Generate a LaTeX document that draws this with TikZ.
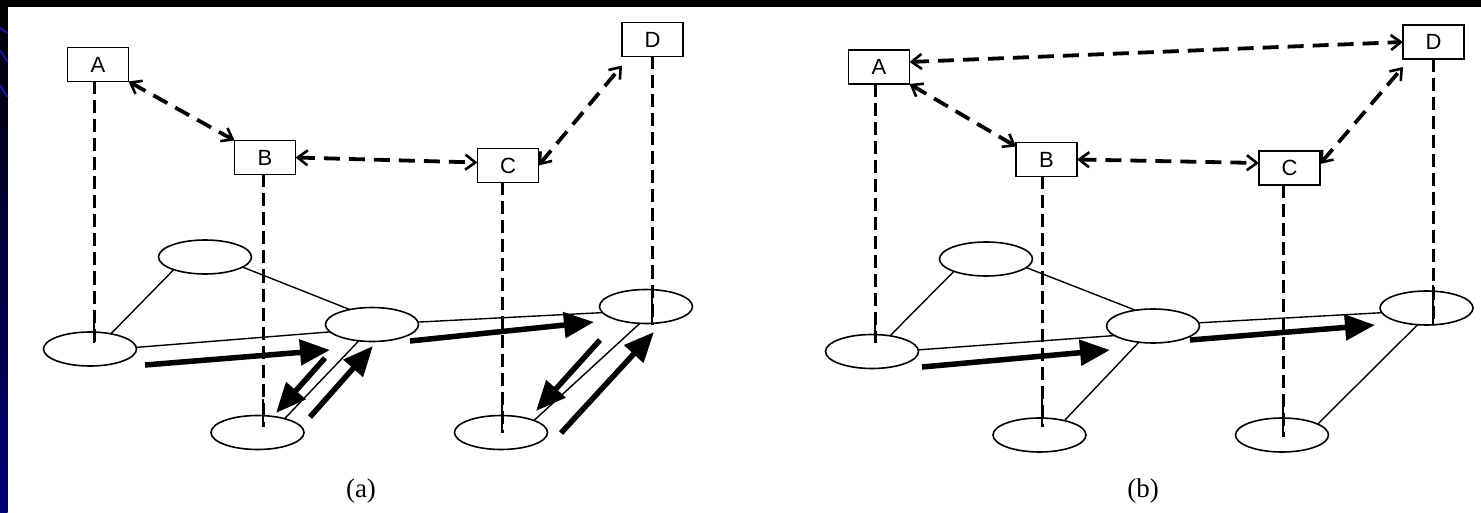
\documentclass[tikz,border=0pt]{standalone}
\usepackage{fontspec}
\setmainfont{Liberation Serif}
\newfontfamily\boxfont{Liberation Sans}
\usetikzlibrary{arrows.meta,shapes.geometric}
\definecolor{navy}{RGB}{0,0,120}
\definecolor{slideblue}{RGB}{20,20,170}
\begin{document}
\begin{tikzpicture}[x=1pt,y=-1pt,
  box/.style={draw,line width=1.9pt,minimum width=61pt,minimum height=34pt,inner sep=0pt,outer sep=0pt,font=\boxfont\fontsize{22}{22}\selectfont},
  site/.style={draw,ellipse,line width=1.6pt,minimum width=93pt,minimum height=34pt,inner sep=0pt,outer sep=0pt},
  vlink/.style={line width=3pt,dash pattern=on 13pt off 6pt},
  tick/.style={line width=1.9pt},
  plink/.style={line width=3.8pt,dash pattern=on 16pt off 9pt,{Straight Barb[length=10pt,width=15pt,line width=2.6pt]}-{Straight Barb[length=10pt,width=15pt,line width=2.6pt]}},
  link/.style={line width=1.4pt},
  flow/.style={line width=5.5pt,-{Triangle[length=30pt,width=25pt]}},
  caption/.style={font=\fontsize{27}{30}\selectfont}
]
\useasboundingbox (0,0) rectangle (1481,513);
\fill[white] (0,0) rectangle (1481,513);
\fill[black] (0,0) rectangle (1481,7);
\shade[top color=black,bottom color=navy] (0,0) rectangle (7.5,513);
\draw[slideblue,line width=2pt] (0,28) -- (7.5,33);
\draw[slideblue,line width=2pt] (0,50) -- (7.5,62);
\draw[slideblue,line width=2pt] (0,85) -- (7.5,97);

% ---------------- panel (a) ----------------
\node[box] (aA) at (98,64.5) {A};
\node[box] (aB) at (265,157.5) {B};
\node[box] (aC) at (508,165.5) {C};
\node[box] (aD) at (652.5,39.5) {D};

\node[site] (a1) at (90,349) {};
\node[site] (a2) at (205,257) {};
\node[site] (a3) at (372,324.5) {};
\node[site] (a4) at (257.5,432.5) {};
\node[site] (a5) at (501,432.5) {};
\node[site] (a6) at (646,306.5) {};

\coordinate (apA) at (94,343);
\coordinate (apB) at (263,427);
\coordinate (apC) at (502,433);
\coordinate (apD) at (652,325);
\draw[vlink] (aA.south -| apA) -- (apA);
\draw[vlink] (aB.south -| apB) -- (apB);
\draw[vlink] (aC.south -| apC) -- (apC);
\draw[vlink] (aD.south -| apD) -- (apD);
\draw[tick] (apA) -- ++(0,-26);
\draw[tick] (apB) -- ++(0,-28);
\draw[tick] (apC) -- ++(0,-28);
\draw[tick] (apD) -- ++(0,-34);

\draw[link] (a1.36) -- (a2.202);
\draw[link] (a2.345) -- (a3.146);
\draw[link] (a1.2) -- (a3.190);
\draw[link] (a3.3) -- (a6.188);
\draw[link] (a3.231) -- (a4.27);
\draw[link] (a6.250) -- (a5.20);

\coordinate (af1s) at (145,365); \coordinate (af1e) at (330,350);
\coordinate (af2s) at (325,358); \coordinate (af2e) at (276,413);
\coordinate (af3s) at (310,417); \coordinate (af3e) at (373,346);
\coordinate (af4s) at (410,341); \coordinate (af4e) at (594,322);
\coordinate (af5s) at (600,340); \coordinate (af5e) at (536,411);
\coordinate (af6s) at (561,433); \coordinate (af6e) at (654,332);
\draw[flow] (af1s) -- (af1e);
\draw[flow] (af2s) -- (af2e);
\draw[flow] (af3s) -- (af3e);
\draw[flow] (af4s) -- (af4e);
\draw[flow] (af5s) -- (af5e);
\draw[flow] (af6s) -- (af6e);

\draw[plink] (aA.south east) -- (aB.north west);
\draw[plink] (aB.east) -- ([yshift=3pt]aC.west);
\draw[plink] (aC.east) -- ([yshift=-9pt]aD.south west);

\node[caption] (la) at (361,491) {(a)};

% ---------------- panel (b) ----------------
\node[box] (bA) at (879,67) {A};
\node[box] (bB) at (1046.5,159.5) {B};
\node[box] (bC) at (1289.5,168) {C};
\node[box] (bD) at (1433.5,42) {D};

\node[site] (b1) at (872,351.5) {};
\node[site] (b2) at (986,259) {};
\node[site] (b3) at (1153,326) {};
\node[site] (b4) at (1039.5,435) {};
\node[site] (b5) at (1282,435) {};
\node[site] (b6) at (1426.5,308) {};

\coordinate (bpA) at (875,343);
\coordinate (bpB) at (1042,427);
\coordinate (bpC) at (1283,437);
\coordinate (bpD) at (1433,325);
\draw[vlink] (bA.south -| bpA) -- (bpA);
\draw[vlink] (bB.south -| bpB) -- (bpB);
\draw[vlink] (bC.south -| bpC) -- (bpC);
\draw[vlink] (bD.south -| bpD) -- (bpD);
\draw[tick] (bpA) -- ++(0,-26);
\draw[tick] (bpB) -- ++(0,-28);
\draw[tick] (bpC) -- ++(0,-37);
\draw[tick] (bpD) -- ++(0,-40);

\draw[link] (b1.41) -- (b2.201);
\draw[link] (b2.348) -- (b3.138);
\draw[link] (b1.2) -- (b3.194);
\draw[link] (b3.4) -- (b6.186);
\draw[link] (b3.229) -- (b4.30);
\draw[link] (b6.242) -- (b5.17);

\coordinate (bf1s) at (922,367); \coordinate (bf1e) at (1110,350);
\coordinate (bf2s) at (1190,340); \coordinate (bf2e) at (1375,325);
\draw[flow] (bf1s) -- (bf1e);
\draw[flow] (bf2s) -- (bf2e);

\draw[plink] ([yshift=5pt]bA.east) -- (bD.west);
\draw[plink] (bA.south east) -- ([yshift=-4pt]bB.north west);
\draw[plink] (bB.east) -- ([yshift=5pt]bC.west);
\draw[plink] ([yshift=4pt]bC.east) -- ([yshift=-8pt]bD.south west);

\node[caption] (lb) at (1143,491) {(b)};
\end{tikzpicture}
\end{document}
